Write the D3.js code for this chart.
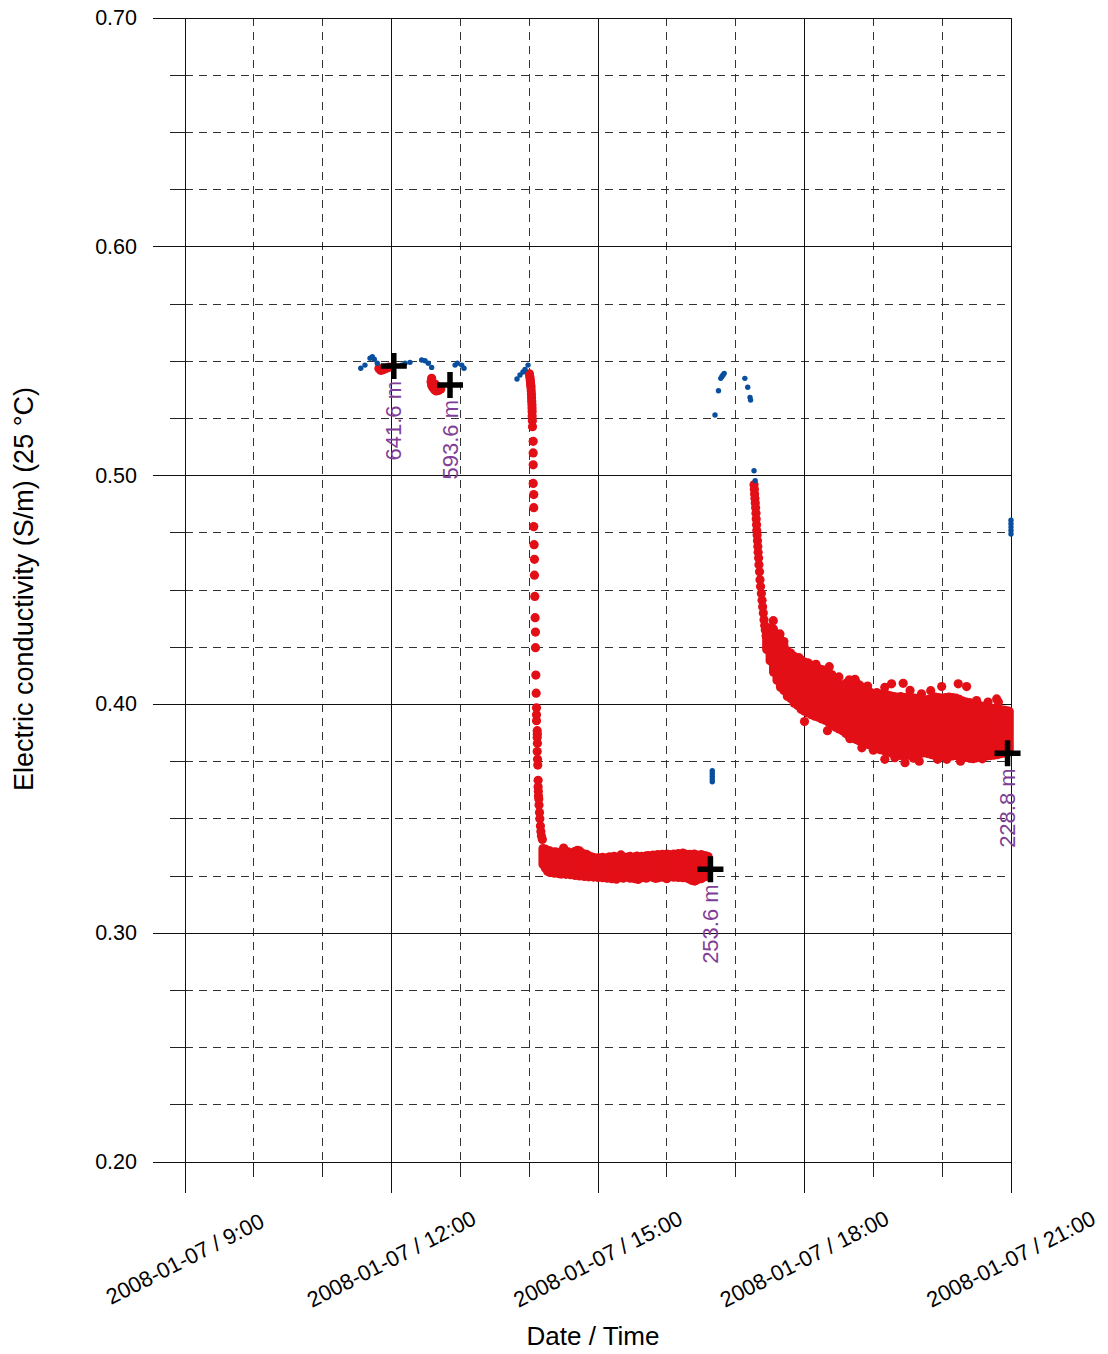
<!DOCTYPE html>
<html>
<head>
<meta charset="utf-8">
<script src="https://cdn.jsdelivr.net/npm/d3@7"></script>
<style>
  html, body { margin: 0; padding: 0; background: #fff; }
  svg { display: block; font-family: "Liberation Sans", Arial, sans-serif; }
</style>
</head>
<body>
<svg id="chart" width="1108" height="1354"></svg>
<script>
// ---------------- DATA (times = minutes since 2008-01-07 00:00) ----------------
const xMajorTickHours = [9, 12, 15, 18, 21];
const xMinorTickHours = [10, 11, 13, 14, 16, 17, 19, 20];
const xTickLabels = ["2008-01-07 / 9:00", "2008-01-07 / 12:00", "2008-01-07 / 15:00", "2008-01-07 / 18:00", "2008-01-07 / 21:00"];
const yMajorTicks = [0.20, 0.30, 0.40, 0.50, 0.60, 0.70];
const yMinorTicks = [0.225, 0.25, 0.275, 0.325, 0.35, 0.375, 0.425, 0.45, 0.475, 0.525, 0.55, 0.575, 0.625, 0.65, 0.675];
const yTickLabels = ["0.20", "0.30", "0.40", "0.50", "0.60", "0.70"];
const xTitle = "Date / Time";
const yTitle = "Electric conductivity (S/m) (25 \u00B0C)";

// blue readings (time, value)
const blueTimes = [693.2, 696.9, 701.3, 703.3, 705.0, 707.6,
  728.9, 731.8, 736.1, 746.3, 749.2, 752.1, 755.0,
  775.4, 777.4, 781.2, 783.2,
  829.4, 832.0, 834.6, 836.4, 839.0,
  999.6, 999.6, 999.6, 999.6, 999.6,
  1002.0, 1005.0, 1007.0, 1008.0, 1009.0, 1010.0,
  1028.0, 1030.5, 1032.5, 1033.0, 1036.0, 1037.0,
  1260.0, 1260.0, 1260.0, 1260.0, 1260.0];
const blueValues = [0.5469, 0.5483, 0.5513, 0.5520, 0.5509, 0.5491,
  0.5483, 0.5491, 0.5495, 0.5505, 0.5502, 0.5491, 0.5473,
  0.5483, 0.5491, 0.5483, 0.5469,
  0.5422, 0.5440, 0.5453, 0.5464, 0.5483,
  0.3710, 0.3698, 0.3686, 0.3674, 0.3662,
  0.5265, 0.5371, 0.5425, 0.5433, 0.5440, 0.5447,
  0.5425, 0.5386, 0.5342, 0.5330, 0.5021, 0.4978,
  0.4805, 0.4790, 0.4775, 0.4760, 0.4745];

// red individual readings (time, value)
const redTimes = [
  709, 710.5, 712, 714, 716, 718,
  755, 754.5, 755, 756, 757.5, 759, 761, 763, 758, 760,
  840.2, 840.5, 840.8, 841.0, 841.2, 841.4, 841.6, 841.8, 842.0, 842.1, 842.2, 842.4, 842.5, 842.6, 842.6, 842.8, 842.9,
  843.5, 843.5, 843.5, 843.5, 844.0, 844.0, 844.0, 844.3, 844.6, 844.6, 844.9, 845.2, 845.5, 845.5, 845.8, 846.1,
  846.4, 846.4, 846.4, 847.0, 847.1, 847.0, 847.2, 847.0, 847.3, 847.5, 847.8, 847.8, 848.0, 848.1, 848.4, 848.6,
  849.0, 849.3, 849.8, 850.2, 850.7, 851.5,
  1036.0, 1036.3, 1036.5, 1036.8, 1037.1, 1037.4, 1037.7, 1037.9, 1038.2, 1038.4, 1038.7, 1039.0, 1039.3,
  1039.6, 1040.0, 1040.3, 1040.8, 1041.2, 1041.7, 1042.4, 1043.0, 1043.5, 1044.1, 1044.7, 1045.3, 1045.8, 1046.5,
  1052.8, 1058.6, 1101.6, 1124.0, 1155.9, 1166.0, 1172.0, 1182.0, 1199.6, 1214.0, 1221.3, 1230.0, 1247.5, 1249.0, 1254.8,
  1119.6, 1158.8, 1167.6, 1204.0, 1180.0, 1140.0,
  1062, 1075, 1090, 1110, 1135, 1150, 1190, 1240,
  1080, 1100, 1130, 1150, 1175, 1196, 1216, 1235,
  882.0, 885.0, 984.5, 986.0, 935.0, 960.0, 870.0, 905.0, 920.0, 950.0];
const redValues = [
  0.5468, 0.5460, 0.5462, 0.5466, 0.5470, 0.5474,
  0.5425, 0.5410, 0.5395, 0.5385, 0.5375, 0.5370, 0.5372, 0.5378, 0.5400, 0.5388,
  0.5445, 0.5435, 0.5425, 0.5415, 0.5405, 0.5395, 0.5385, 0.5370, 0.5355, 0.5340, 0.5325, 0.5310, 0.5295, 0.5280, 0.5261, 0.5240, 0.5214,
  0.5150, 0.5099, 0.5047, 0.4966, 0.4917, 0.4860, 0.4777, 0.4698, 0.4634, 0.4565, 0.4472, 0.4379, 0.4316, 0.4248, 0.4128, 0.4049,
  0.3985, 0.3955, 0.3929, 0.3885, 0.3870, 0.3855, 0.3830, 0.3794, 0.3760, 0.3735, 0.3668, 0.3640, 0.3620, 0.3600, 0.3587, 0.3560,
  0.3528, 0.3500, 0.3469, 0.3445, 0.3425, 0.3410,
  0.4960, 0.4940, 0.4920, 0.4900, 0.4880, 0.4860, 0.4835, 0.4810, 0.4785, 0.4760, 0.4740, 0.4715, 0.4690,
  0.4665, 0.4640, 0.4610, 0.4580, 0.4545, 0.4515, 0.4485, 0.4455, 0.4427, 0.4400, 0.4370, 0.4345, 0.4325, 0.4300,
  0.4366, 0.4308, 0.4165, 0.4110, 0.4090, 0.4092, 0.4061, 0.4046, 0.4078, 0.4090, 0.4078, 0.4017, 0.4024, 0.4010, 0.3973,
  0.3850, 0.3767, 0.3745, 0.3760, 0.3752, 0.3800,
  0.4275, 0.4205, 0.4175, 0.4120, 0.4080, 0.4075, 0.4060, 0.4010,
  0.3925, 0.3885, 0.3810, 0.3760, 0.3765, 0.3760, 0.3752, 0.3762,
  0.3358, 0.3352, 0.3229, 0.3232, 0.3235, 0.3238, 0.3372, 0.3250, 0.3342, 0.3240];

// red dense periods: per reading time, lowest and highest reading
const plateauTimes = [852, 854, 856, 858, 860, 862, 864, 866, 868, 870, 872, 874, 876, 878, 880, 882, 884, 886, 888, 890,
  892, 894, 896, 898, 900, 902, 904, 906, 908, 910, 912, 914, 916, 918, 920, 922, 924, 926, 928, 930,
  932, 934, 936, 938, 940, 942, 944, 946, 948, 950, 952, 954, 956, 958, 960, 962, 964, 966, 968, 970,
  972, 974, 976, 978, 980, 982, 984, 986, 988, 990, 992, 994, 996];
const plateauLow = [0.3300, 0.3285, 0.3270, 0.3265, 0.3272, 0.3262, 0.3266, 0.3260, 0.3258, 0.3262, 0.3257, 0.3262, 0.3255, 0.3260, 0.3252, 0.3258, 0.3250, 0.3255, 0.3248, 0.3250,
  0.3246, 0.3252, 0.3245, 0.3250, 0.3243, 0.3248, 0.3242, 0.3246, 0.3240, 0.3245, 0.3238, 0.3244, 0.3236, 0.3242, 0.3246, 0.3240, 0.3245, 0.3248, 0.3240, 0.3244,
  0.3238, 0.3243, 0.3247, 0.3242, 0.3246, 0.3240, 0.3245, 0.3248, 0.3243, 0.3246, 0.3241, 0.3247, 0.3244, 0.3248, 0.3242, 0.3246, 0.3250, 0.3244, 0.3248, 0.3243,
  0.3247, 0.3242, 0.3246, 0.3240, 0.3236, 0.3230, 0.3228, 0.3240, 0.3245, 0.3238, 0.3244, 0.3248, 0.3250];
const plateauHigh = [0.3370, 0.3368, 0.3362, 0.3360, 0.3352, 0.3356, 0.3355, 0.3348, 0.3350, 0.3346, 0.3352, 0.3356, 0.3350, 0.3345, 0.3358, 0.3362, 0.3360, 0.3350, 0.3346, 0.3345,
  0.3338, 0.3334, 0.3332, 0.3326, 0.3330, 0.3328, 0.3332, 0.3326, 0.3330, 0.3334, 0.3332, 0.3336, 0.3333, 0.3328, 0.3331, 0.3334, 0.3328, 0.3333, 0.3336, 0.3330,
  0.3334, 0.3337, 0.3332, 0.3336, 0.3334, 0.3338, 0.3340, 0.3336, 0.3342, 0.3340, 0.3344, 0.3340, 0.3345, 0.3342, 0.3346, 0.3344, 0.3340, 0.3346, 0.3342, 0.3348,
  0.3345, 0.3350, 0.3346, 0.3342, 0.3345, 0.3340, 0.3346, 0.3342, 0.3338, 0.3344, 0.3340, 0.3338, 0.3335];

const decayTimes = [1047, 1050, 1053, 1056, 1059, 1062, 1065, 1068, 1071, 1074, 1077, 1080, 1083, 1086, 1089, 1092, 1095, 1098, 1101, 1104,
  1107, 1110, 1113, 1116, 1119, 1122, 1125, 1128, 1131, 1134, 1137, 1140, 1143, 1146, 1149, 1152, 1155, 1158, 1161, 1164,
  1167, 1170, 1173, 1176, 1179, 1182, 1185, 1188, 1191, 1194, 1197, 1200, 1203, 1206, 1209, 1212, 1215, 1218, 1221, 1224,
  1227, 1230, 1233, 1236, 1239, 1242, 1245, 1248, 1251, 1254, 1257, 1258.5];
const decayLow = [0.4240, 0.4190, 0.4140, 0.4105, 0.4075, 0.4060, 0.4035, 0.4025, 0.4005, 0.3995, 0.3978, 0.3970, 0.3962, 0.3955, 0.3948, 0.3944, 0.3936, 0.3930, 0.3922, 0.3910,
  0.3900, 0.3892, 0.3885, 0.3872, 0.3860, 0.3852, 0.3846, 0.3840, 0.3834, 0.3826, 0.3822, 0.3818, 0.3810, 0.3802, 0.3798, 0.3792, 0.3788, 0.3784, 0.3780, 0.3776,
  0.3774, 0.3778, 0.3776, 0.3778, 0.3782, 0.3786, 0.3788, 0.3784, 0.3780, 0.3775, 0.3774, 0.3778, 0.3775, 0.3772, 0.3774, 0.3776, 0.3778, 0.3772, 0.3768, 0.3764,
  0.3762, 0.3766, 0.3770, 0.3772, 0.3774, 0.3776, 0.3778, 0.3780, 0.3784, 0.3786, 0.3790, 0.3792];
const decayHigh = [0.4320, 0.4335, 0.4330, 0.4300, 0.4285, 0.4262, 0.4235, 0.4225, 0.4210, 0.4200, 0.4195, 0.4185, 0.4182, 0.4172, 0.4165, 0.4158, 0.4152, 0.4150, 0.4140, 0.4130,
  0.4105, 0.4090, 0.4085, 0.4092, 0.4108, 0.4105, 0.4098, 0.4085, 0.4075, 0.4062, 0.4055, 0.4048, 0.4052, 0.4045, 0.4040, 0.4042, 0.4038, 0.4035, 0.4032, 0.4035,
  0.4030, 0.4033, 0.4030, 0.4028, 0.4024, 0.4020, 0.4018, 0.4022, 0.4026, 0.4032, 0.4030, 0.4028, 0.4030, 0.4032, 0.4030, 0.4028, 0.4022, 0.4015, 0.4010, 0.4008,
  0.4004, 0.3998, 0.3995, 0.3992, 0.3988, 0.3985, 0.3982, 0.3980, 0.3978, 0.3975, 0.3972, 0.3970];

// depth markers
const markerTimes = [722, 771, 998, 1257];
const markerValues = [0.5479, 0.5396, 0.3279, 0.3786];
const markerLabels = ["641.6 m", "593.6 m", "253.6 m", "228.8 m"];

// ---------------- DRAWING ----------------
const BASE = new Date(2008, 0, 7).getTime();
const T = m => new Date(BASE + m * 60000);
const H = h => new Date(BASE + h * 3600000);

const svg = d3.select("#chart");
const x = d3.scaleTime().domain([H(9), H(21)]).range([185, 1011]);
const y = d3.scaleLinear().domain([0.2, 0.7]).range([1162, 18]);
const [x0, x1] = x.range();
const [yb, yt] = y.range();

const RED = "#e30f17", BLUE = "#0a4f9e", PURPLE = "#7f3f98";

const grid = svg.append("g").attr("shape-rendering", "crispEdges");
// minor dashed grid
grid.selectAll("line.vmin").data(xMinorTickHours).join("line")
  .attr("x1", d => x(H(d))).attr("x2", d => x(H(d)))
  .attr("y1", yt).attr("y2", yb)
  .attr("stroke", "#333").attr("stroke-dasharray", "8,6");
grid.selectAll("line.hmin").data(yMinorTicks).join("line")
  .attr("x1", x0).attr("x2", x1)
  .attr("y1", d => y(d)).attr("y2", d => y(d))
  .attr("stroke", "#333").attr("stroke-dasharray", "8,6");
// minor ticks (solid)
grid.selectAll("line.vmint").data(xMinorTickHours).join("line")
  .attr("x1", d => x(H(d))).attr("x2", d => x(H(d)))
  .attr("y1", yb).attr("y2", yb + 15).attr("stroke", "#222");
grid.selectAll("line.hmint").data(yMinorTicks).join("line")
  .attr("x1", x0 - 15).attr("x2", x0)
  .attr("y1", d => y(d)).attr("y2", d => y(d)).attr("stroke", "#222");
// major grid + ticks
grid.selectAll("line.vmaj").data(xMajorTickHours).join("line")
  .attr("x1", d => x(H(d))).attr("x2", d => x(H(d)))
  .attr("y1", yt).attr("y2", yb + 31).attr("stroke", "#111");
grid.selectAll("line.hmaj").data(yMajorTicks).join("line")
  .attr("x1", x0 - 32).attr("x2", x1)
  .attr("y1", d => y(d)).attr("y2", d => y(d)).attr("stroke", "#111");

// tick labels
svg.append("g").selectAll("text").data(yMajorTicks).join("text")
  .attr("x", 137).attr("y", d => y(d))
  .attr("text-anchor", "end").attr("dominant-baseline", "central")
  .attr("font-size", 21.5).attr("fill", "#000")
  .text((d, i) => yTickLabels[i]);
svg.append("g").selectAll("text").data(xMajorTickHours).join("text")
  .attr("transform", d => `translate(${x(H(d))},1259) rotate(-27)`)
  .attr("text-anchor", "middle").attr("dominant-baseline", "central")
  .attr("font-size", 22).attr("fill", "#000")
  .text((d, i) => xTickLabels[i]);

// axis titles
svg.append("text").attr("x", 593).attr("y", 1336)
  .attr("text-anchor", "middle").attr("dominant-baseline", "central")
  .attr("font-size", 26).text(xTitle);
svg.append("text").attr("transform", "translate(24,589) rotate(-90)")
  .attr("text-anchor", "middle").attr("dominant-baseline", "central")
  .attr("font-size", 27).text(yTitle);

// red dense ranges (each reading time drawn from its lowest to highest reading)
const bands = svg.append("g").attr("stroke", RED).attr("stroke-width", 9).attr("stroke-linecap", "round");
bands.selectAll("line.p").data(plateauTimes).join("line")
  .attr("x1", d => x(T(d))).attr("x2", d => x(T(d)))
  .attr("y1", (d, i) => y(plateauLow[i])).attr("y2", (d, i) => y(plateauHigh[i]));
bands.selectAll("line.d").data(decayTimes).join("line")
  .attr("x1", d => x(T(d))).attr("x2", d => x(T(d)))
  .attr("y1", (d, i) => y(decayLow[i])).attr("y2", (d, i) => y(decayHigh[i]));

// red readings
svg.append("g").selectAll("circle").data(redTimes).join("circle")
  .attr("cx", d => x(T(d))).attr("cy", (d, i) => y(redValues[i]))
  .attr("r", 4.6).attr("fill", RED);

// blue readings
svg.append("g").selectAll("circle").data(blueTimes).join("circle")
  .attr("cx", d => x(T(d))).attr("cy", (d, i) => y(blueValues[i]))
  .attr("r", 2.7).attr("fill", BLUE);

// markers
svg.append("g").selectAll("path").data(markerTimes).join("path")
  .attr("transform", (d, i) => `translate(${x(T(d))},${y(markerValues[i])})`)
  .attr("d", "M-13,0H13M0,-13V13")
  .attr("stroke", "#000").attr("stroke-width", 5.5).attr("fill", "none");
svg.append("g").selectAll("text").data(markerTimes).join("text")
  .attr("transform", (d, i) => `translate(${x(T(d))},${y(markerValues[i]) + 15}) rotate(-90)`)
  .attr("text-anchor", "end").attr("dominant-baseline", "central")
  .attr("font-size", 22).attr("fill", PURPLE)
  .text((d, i) => markerLabels[i]);
</script>
</body>
</html>
